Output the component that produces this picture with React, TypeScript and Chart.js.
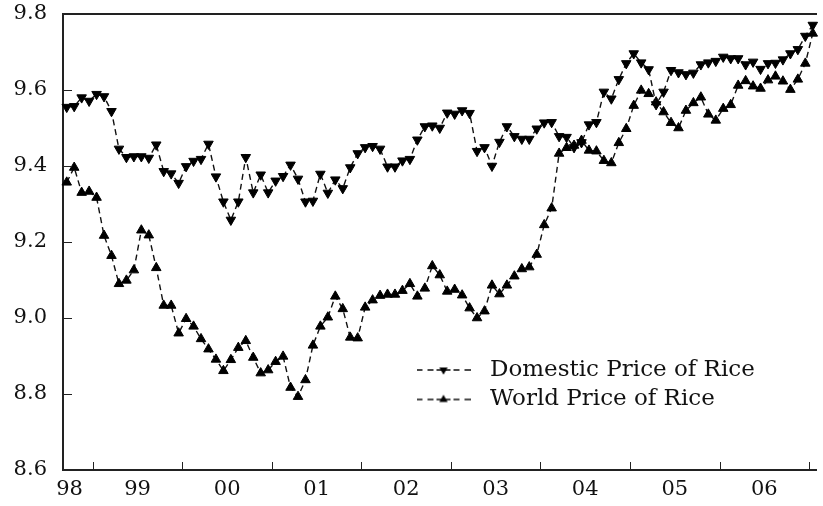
import React, { useEffect, useRef } from "react";
import { Chart, registerables } from "chart.js";

Chart.register(...registerables);

// Monthly log prices (index 0 = first month shown)
const domestic = [
  9.555, 9.557, 9.58, 9.571, 9.589, 9.583, 9.544, 9.445, 9.423, 9.425,
  9.425, 9.421, 9.456, 9.386, 9.38, 9.355, 9.399, 9.413, 9.418, 9.458,
  9.372, 9.306, 9.258, 9.306, 9.423, 9.33, 9.377, 9.33, 9.361, 9.373,
  9.403, 9.366, 9.306, 9.308, 9.379, 9.329, 9.364, 9.341, 9.396, 9.433,
  9.449, 9.452, 9.445, 9.398, 9.398, 9.414, 9.418, 9.469, 9.504, 9.506,
  9.5, 9.54, 9.537, 9.546, 9.539, 9.439, 9.449, 9.4, 9.463, 9.504,
  9.478, 9.471, 9.471, 9.498, 9.514, 9.515, 9.478, 9.476, 9.449, 9.462,
  9.509, 9.515, 9.595, 9.577, 9.628, 9.67, 9.696, 9.672, 9.654, 9.562,
  9.595, 9.652, 9.646, 9.641, 9.645, 9.667, 9.672, 9.676, 9.687, 9.683,
  9.683, 9.667, 9.674, 9.655, 9.67, 9.671, 9.68, 9.696, 9.707, 9.742,
  9.771,
];

const world = [
  9.357, 9.396, 9.33, 9.333, 9.317, 9.217, 9.164, 9.09, 9.099, 9.126,
  9.231, 9.218, 9.132, 9.033, 9.033, 8.96, 8.998, 8.978, 8.945, 8.918,
  8.891, 8.861, 8.89, 8.922, 8.94, 8.896, 8.855, 8.863, 8.885, 8.899,
  8.817, 8.793, 8.837, 8.928, 8.978, 9.002, 9.057, 9.024, 8.949, 8.947,
  9.028, 9.047, 9.059, 9.062, 9.062, 9.072, 9.09, 9.057, 9.078, 9.137,
  9.113, 9.07, 9.075, 9.06, 9.026, 9.0, 9.018, 9.086, 9.063, 9.086,
  9.11, 9.129, 9.134, 9.167, 9.245, 9.289, 9.433, 9.448, 9.454, 9.467,
  9.441, 9.439, 9.414, 9.408, 9.461, 9.498, 9.559, 9.599, 9.59, 9.568,
  9.542, 9.514, 9.5, 9.546, 9.566, 9.581, 9.536, 9.52, 9.551, 9.561,
  9.612, 9.624, 9.61, 9.604, 9.626, 9.636, 9.623, 9.601, 9.628, 9.67,
  9.749,
];

const seriesNames = ["Domestic Price of Rice", "World Price of Rice"];
const yearLabels = ["98", "99", "00", "01", "02", "03", "04", "05", "06"];
const yearLabelPos = [0.37, 9.5, 21.5, 33.5, 45.5, 57.5, 69.5, 81.5, 93.5];
const yearTickPos = [3.5, 15.5, 27.5, 39.5, 51.5, 63.5, 75.5, 87.5, 99.5];
const yTicks = [8.6, 8.8, 9.0, 9.2, 9.4, 9.6, 9.8];

const FONT = "'DejaVu Serif', 'Liberation Serif', serif";

function makeIcon(down: boolean): HTMLCanvasElement {
  const c = document.createElement("canvas");
  c.width = 54;
  c.height = 14;
  const g = c.getContext("2d")!;
  g.strokeStyle = "#111";
  g.lineWidth = 1.4;
  const cy = 7;
  const segs = [
    [0, 6],
    [11, 17],
    [20, 34],
    [37, 43],
    [48, 54],
  ];
  g.beginPath();
  segs.forEach(([a, b]) => {
    g.moveTo(a, cy);
    g.lineTo(b, cy);
  });
  g.stroke();
  const cx = 27;
  const r = 4.8;
  g.fillStyle = "#000";
  g.beginPath();
  if (down) {
    g.moveTo(cx - r * 0.866, cy - r / 2);
    g.lineTo(cx + r * 0.866, cy - r / 2);
    g.lineTo(cx, cy + r);
  } else {
    g.moveTo(cx - r * 0.866, cy + r / 2);
    g.lineTo(cx + r * 0.866, cy + r / 2);
    g.lineTo(cx, cy - r);
  }
  g.closePath();
  g.fill();
  return c;
}

export default function App() {
  const ref = useRef<HTMLCanvasElement | null>(null);

  useEffect(() => {
    if (!ref.current) return;
    const icons = [makeIcon(true), makeIcon(false)];

    const axisDecor = {
      id: "axisDecor",
      afterDraw(chart: any) {
        const ctx = chart.ctx;
        const a = chart.chartArea;
        const xs = chart.scales.x;
        const ys = chart.scales.y;
        ctx.save();
        ctx.setLineDash([]);
        ctx.strokeStyle = "#222";
        ctx.lineWidth = 1;
        yearTickPos.forEach((v) => {
          const px = Math.round(xs.getPixelForValue(v)) + 0.5;
          ctx.beginPath();
          ctx.moveTo(px, a.bottom);
          ctx.lineTo(px, a.bottom - 8);
          ctx.stroke();
        });
        yTicks.forEach((v) => {
          const py = Math.round(ys.getPixelForValue(v)) + 0.5;
          ctx.beginPath();
          ctx.moveTo(a.left, py);
          ctx.lineTo(a.left + 9, py);
          ctx.stroke();
        });
        ctx.restore();
      },
    };

    const legendPlace = {
      id: "legendPlace",
      afterLayout(chart: any) {
        const lg = chart.legend;
        if (!lg) return;
        const w = lg.width;
        const h = lg.height;
        lg.left = 402;
        lg.top = 352;
        lg.right = 402 + w;
        lg.bottom = 352 + h;
      },
    };

    const tickFont = { family: FONT, size: 21 };

    const common = {
      borderColor: "#111",
      borderWidth: 1.4,
      borderDash: [6, 4],
      pointStyle: "triangle",
      pointRadius: 5.5,
      pointBorderWidth: 1,
      pointBackgroundColor: "#000",
      pointBorderColor: "#000",
      tension: 0,
      fill: false,
      clip: false,
    };

    const chart = new Chart(ref.current, {
      type: "line",
      data: {
        datasets: [
          {
            ...common,
            label: seriesNames[0],
            data: domestic.map((y, i) => ({ x: i, y })),
            pointRotation: 180,
          } as any,
          {
            ...common,
            label: seriesNames[1],
            data: world.map((y, i) => ({ x: i, y })),
            pointRotation: 0,
          } as any,
        ],
      },
      options: {
        responsive: false,
        maintainAspectRatio: false,
        animation: false,
        devicePixelRatio: 1,
        layout: { padding: { left: 0, top: 14, right: 1, bottom: 0 } },
        plugins: {
          tooltip: { enabled: false },
          legend: {
            position: "chartArea" as any,
            align: "start",
            labels: {
              usePointStyle: true,
              pointStyleWidth: 70,
              padding: 6.5,
              color: "#111",
              font: { family: FONT, size: 23 },
              generateLabels: (ch: any) =>
                ch.data.datasets.map((ds: any, i: number) => ({
                  text: ds.label,
                  pointStyle: icons[i],
                  fillStyle: "#000",
                  strokeStyle: "#000",
                  fontColor: "#111",
                  lineWidth: 0,
                  hidden: false,
                  datasetIndex: i,
                })),
            },
          },
        },
        scales: {
          x: {
            type: "linear",
            min: -0.5,
            max: 100.5,
            afterBuildTicks: (s: any) => {
              s.ticks = yearLabelPos.map((v) => ({ value: v }));
            },
            afterFit: (s: any) => {
              s.height = 36;
              s.paddingLeft = 0;
              s.paddingRight = 0;
            },
            ticks: {
              autoSkip: false,
              maxRotation: 0,
              minRotation: 0,
              padding: 7,
              color: "#111",
              font: tickFont,
              callback: (_v: any, i: number) => yearLabels[i],
            },
            grid: { display: false, drawTicks: false },
            border: { display: true, width: 2, color: "#222" },
          },
          xTop: {
            type: "linear",
            position: "top",
            min: -0.5,
            max: 100.5,
            afterFit: (s: any) => {
              s.height = 0;
              s.paddingLeft = 0;
              s.paddingRight = 0;
            },
            ticks: { display: false },
            grid: { display: false, drawTicks: false },
            border: { display: true, width: 2, color: "#222" },
          },
          y: {
            type: "linear",
            min: 8.6,
            max: 9.8,
            afterBuildTicks: (s: any) => {
              s.ticks = yTicks.map((v) => ({ value: v }));
            },
            afterFit: (s: any) => {
              s.width = 63;
              s.paddingTop = 0;
              s.paddingBottom = 0;
            },
            ticks: {
              padding: 16,
              color: "#111",
              font: tickFont,
              callback: (v: any) => Number(v).toFixed(1),
            },
            grid: { display: false, drawTicks: false },
            border: { display: true, width: 2, color: "#222" },
          },
        },
      },
      plugins: [axisDecor, legendPlace],
    } as any);

    return () => chart.destroy();
  }, []);

  return (
    <div
      style={{
        position: "fixed",
        left: 0,
        top: 0,
        width: 823,
        height: 506,
        background: "#fff",
      }}
    >
      <canvas ref={ref} width={823} height={506} style={{ display: "block" }} />
    </div>
  );
}
